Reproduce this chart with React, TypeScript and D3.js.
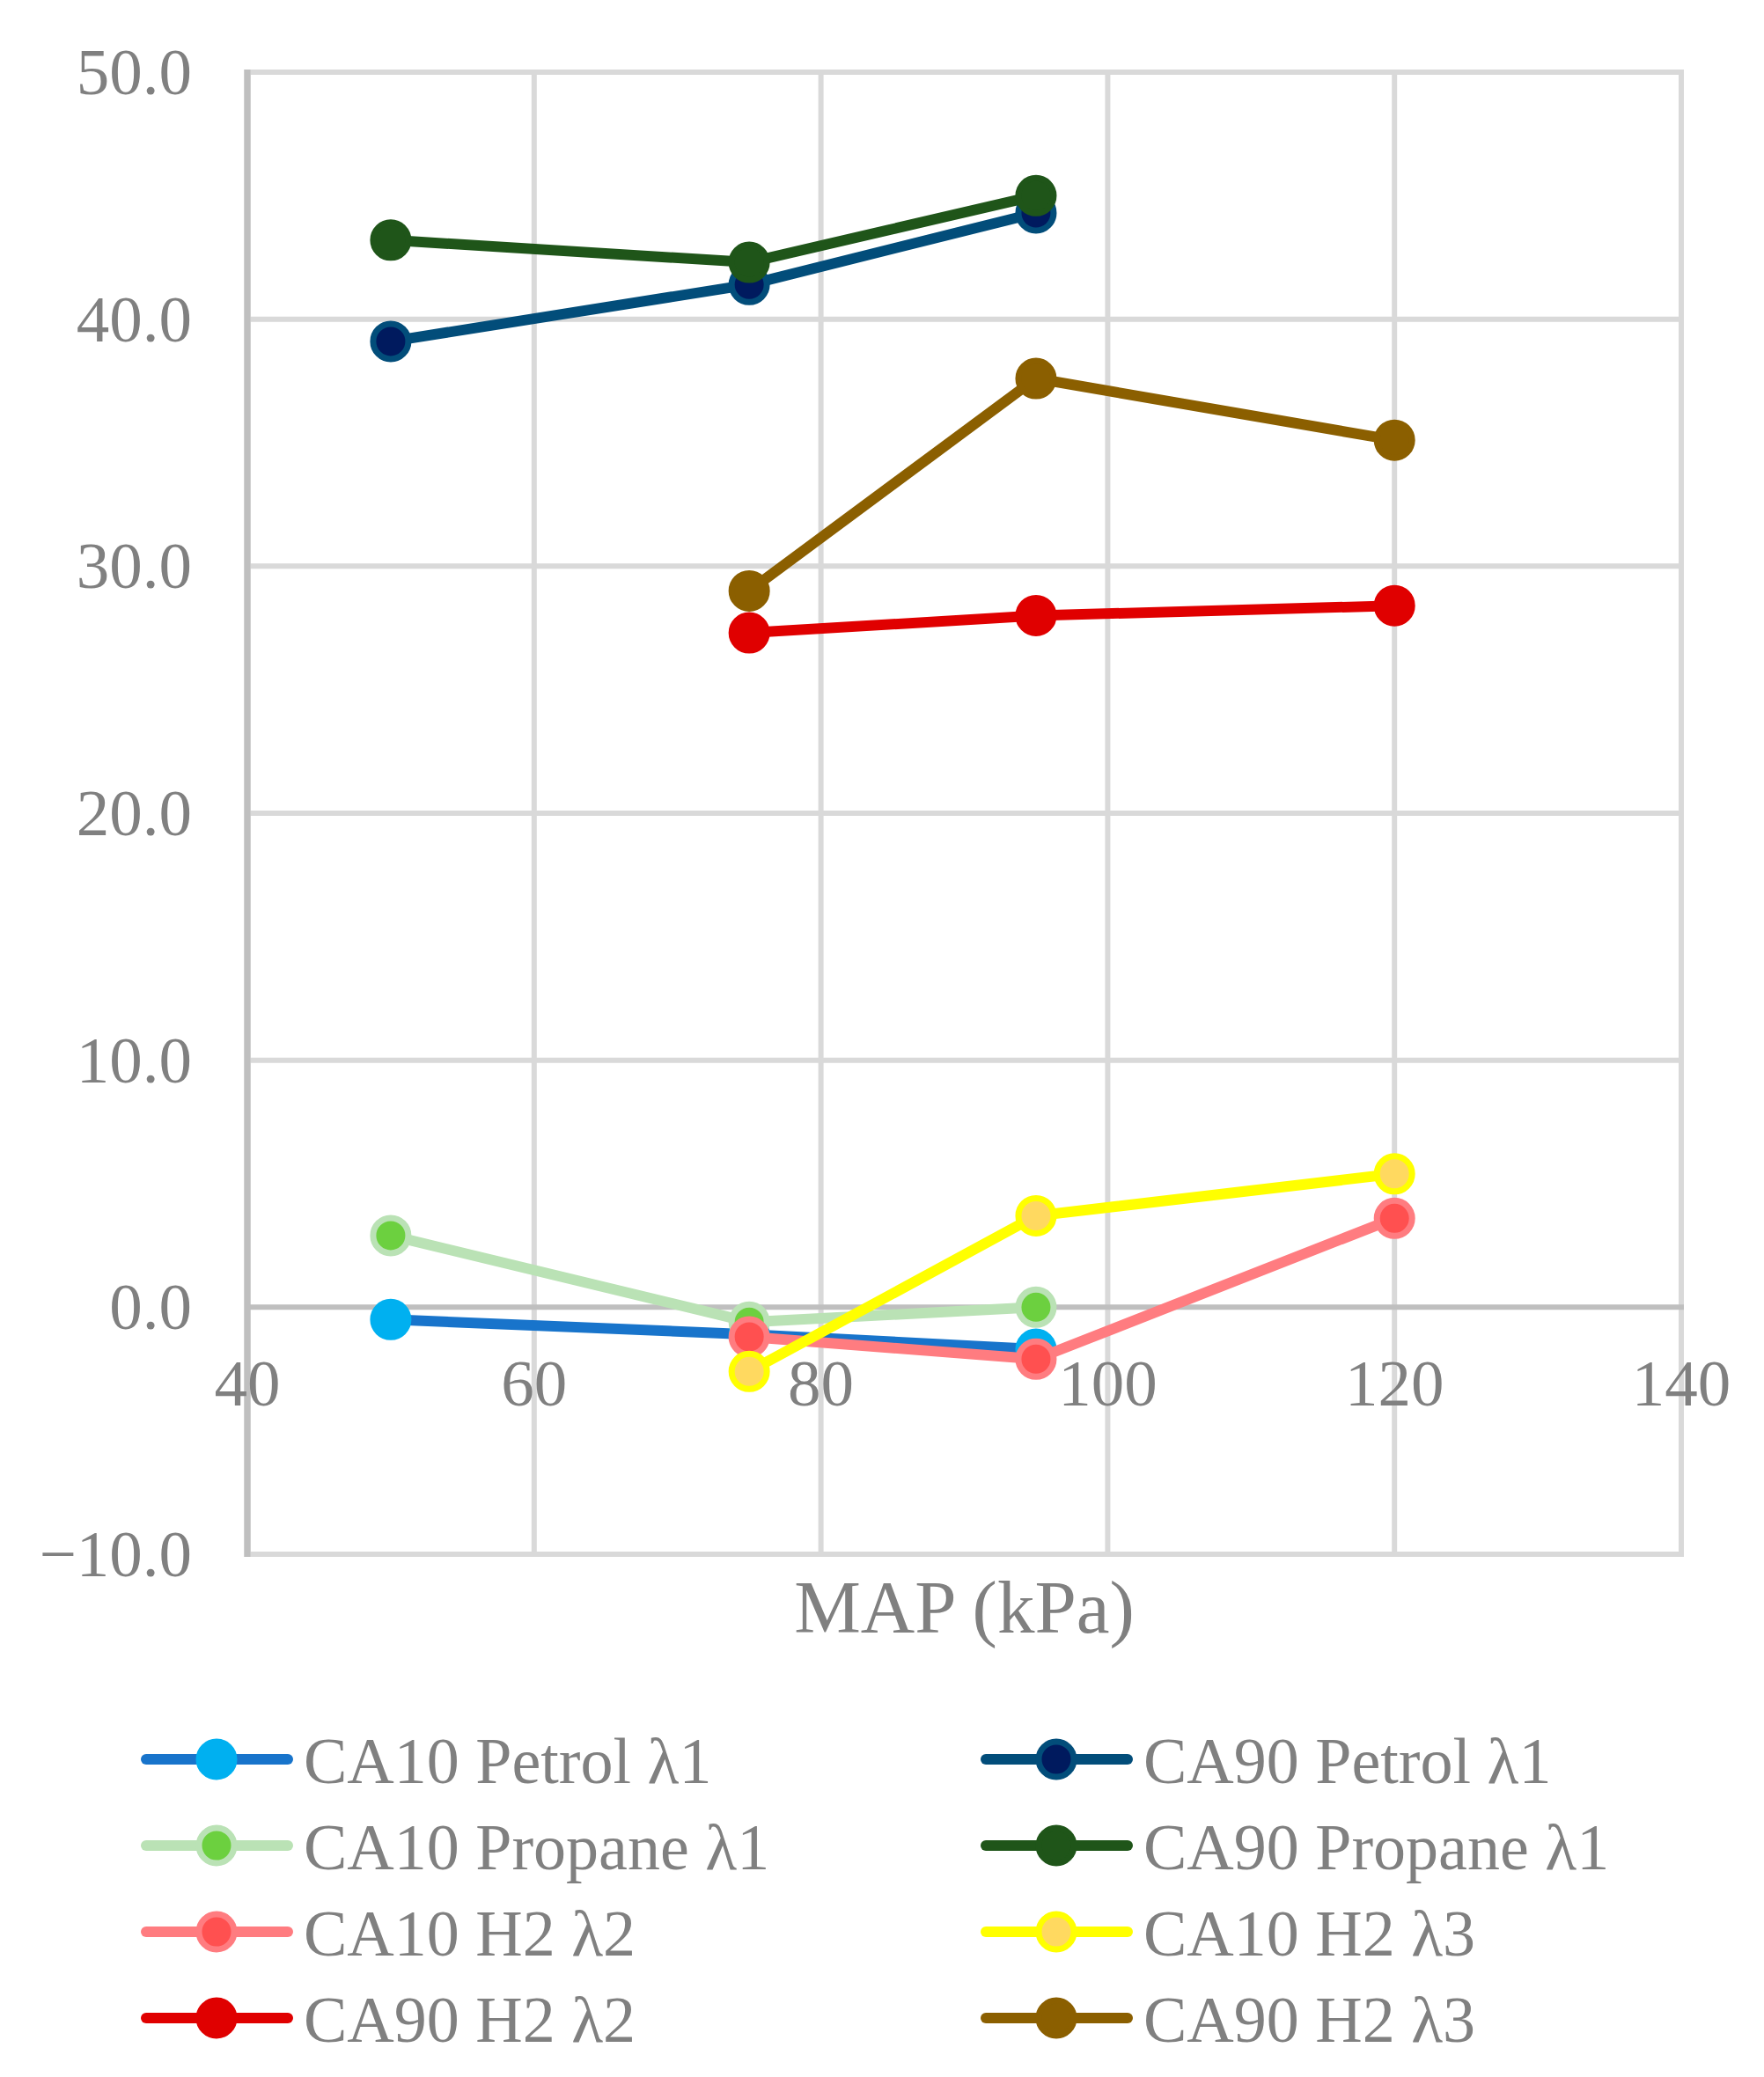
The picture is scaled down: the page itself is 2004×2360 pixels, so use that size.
// Line chart: CA10 / CA90 vs MAP for petrol, propane and H2
import * as d3 from 'd3';

// x positions (MAP, kPa)
const mapLambda1 = [50, 75, 95];
const mapH2 = [75, 95, 120];

// series values (crank angle, deg)
const ca10Petrol = [-0.5, -1.1, -1.7];
const ca90Petrol = [39.1, 41.4, 44.3];
const ca10Propane = [2.9, -0.6, 0.0];
const ca90Propane = [43.2, 42.3, 45.0];
const ca10H2L2 = [-1.2, -2.1, 3.6];
const ca10H2L3 = [-2.6, 3.7, 5.4];
const ca90H2L2 = [27.3, 28.0, 28.4];
const ca90H2L3 = [29.0, 37.6, 35.1];

const xTicks = [40, 60, 80, 100, 120, 140];
const yTicks = [-10, 0, 10, 20, 30, 40, 50];

interface Series {
  name: string;
  xs: number[];
  ys: number[];
  line: string;
  fill: string;
  ring: string;
}

const series: Series[] = [
  { name: 'CA10 Petrol λ1', xs: mapLambda1, ys: ca10Petrol, line: '#1874CB', fill: '#00B0F0', ring: '#00B0F0' },
  { name: 'CA90 Petrol λ1', xs: mapLambda1, ys: ca90Petrol, line: '#024D7A', fill: '#001A5E', ring: '#024D7A' },
  { name: 'CA10 Propane λ1', xs: mapLambda1, ys: ca10Propane, line: '#BAE2B5', fill: '#6CD03F', ring: '#BAE2B5' },
  { name: 'CA90 Propane λ1', xs: mapLambda1, ys: ca90Propane, line: '#1F5519', fill: '#1F5519', ring: '#1F5519' },
  { name: 'CA10 H2 λ2', xs: mapH2, ys: ca10H2L2, line: '#FF7C80', fill: '#FF5050', ring: '#FF7C80' },
  { name: 'CA10 H2 λ3', xs: mapH2, ys: ca10H2L3, line: '#FFFF00', fill: '#FFD960', ring: '#FFFF00' },
  { name: 'CA90 H2 λ2', xs: mapH2, ys: ca90H2L2, line: '#E00000', fill: '#E00000', ring: '#E00000' },
  { name: 'CA90 H2 λ3', xs: mapH2, ys: ca90H2L3, line: '#8B5F00', fill: '#8B5F00', ring: '#8B5F00' },
];

const W = 2004;
const H = 2360;
const plot = { left: 281, right: 1910, top: 82, bottom: 1766 };
const font = "'Liberation Serif', 'Times New Roman', serif";
const textColor = '#808080';

const App = () => {
  const x = d3.scaleLinear().domain([40, 140]).range([plot.left, plot.right]);
  const y = d3.scaleLinear().domain([-10, 50]).range([plot.bottom, plot.top]);
  const fmt = d3.format('.1f');

  const line = d3.line<[number, number]>()
    .x(d => x(d[0]))
    .y(d => y(d[1]));

  const legendX = [160, 1114];
  const legendY = [1999, 2097, 2195, 2293];

  return (
    <svg
      width={W}
      height={H}
      style={{ position: 'absolute', left: 0, top: 0, background: '#fff' }}
      fontFamily={font}
    >
      <rect width={W} height={H} fill="#fff" />

      {/* vertical grid */}
      {xTicks.map(t => (
        <line key={`gx${t}`} x1={x(t)} x2={x(t)} y1={plot.top - 3} y2={plot.bottom + 3}
          stroke={t === 40 ? '#BFBFBF' : '#D9D9D9'} strokeWidth={t === 40 ? 7 : 6} />
      ))}
      {/* horizontal grid */}
      {yTicks.map(t => (
        <line key={`gy${t}`} x1={plot.left} x2={plot.right + 3} y1={y(t)} y2={y(t)}
          stroke={t === 0 ? '#BFBFBF' : '#D9D9D9'} strokeWidth={6} />
      ))}
      <line x1={x(40)} x2={x(40)} y1={plot.top - 3} y2={plot.bottom + 3} stroke="#BFBFBF" strokeWidth={7} />

      {/* y tick labels */}
      {yTicks.map(t => (
        <text key={`ty${t}`} x={218} y={y(t) + 25} textAnchor="end" fontSize={75} fill={textColor}>
          {fmt(t)}
        </text>
      ))}
      {/* x tick labels, sitting under the zero line */}
      {xTicks.map(t => (
        <text key={`tx${t}`} x={x(t)} y={1597} textAnchor="middle" fontSize={75} fill={textColor}>
          {t}
        </text>
      ))}

      <text x={(plot.left + plot.right) / 2} y={1855} textAnchor="middle" fontSize={85} fill={textColor}>
        MAP (kPa)
      </text>

      {/* series */}
      {series.map(s => {
        const pts = s.xs.map((v, i) => [v, s.ys[i]] as [number, number]);
        return (
          <g key={s.name}>
            <path d={line(pts) || ''} fill="none" stroke={s.line} strokeWidth={12}
              strokeLinejoin="round" strokeLinecap="round" />
            {pts.map((p, i) => (
              <circle key={i} cx={x(p[0])} cy={y(p[1])} r={20} fill={s.fill}
                stroke={s.ring} strokeWidth={7} />
            ))}
          </g>
        );
      })}

      {/* legend */}
      {series.map((s, i) => {
        const lx = legendX[i % 2];
        const ly = legendY[Math.floor(i / 2)];
        return (
          <g key={`lg${s.name}`}>
            <line x1={lx + 6} x2={lx + 167} y1={ly} y2={ly} stroke={s.line} strokeWidth={12} strokeLinecap="round" />
            <circle cx={lx + 86} cy={ly} r={20} fill={s.fill} stroke={s.ring} strokeWidth={7} />
            <text x={lx + 185} y={ly + 27} fontSize={74} fill={textColor}>{s.name}</text>
          </g>
        );
      })}
    </svg>
  );
};

export default App;
